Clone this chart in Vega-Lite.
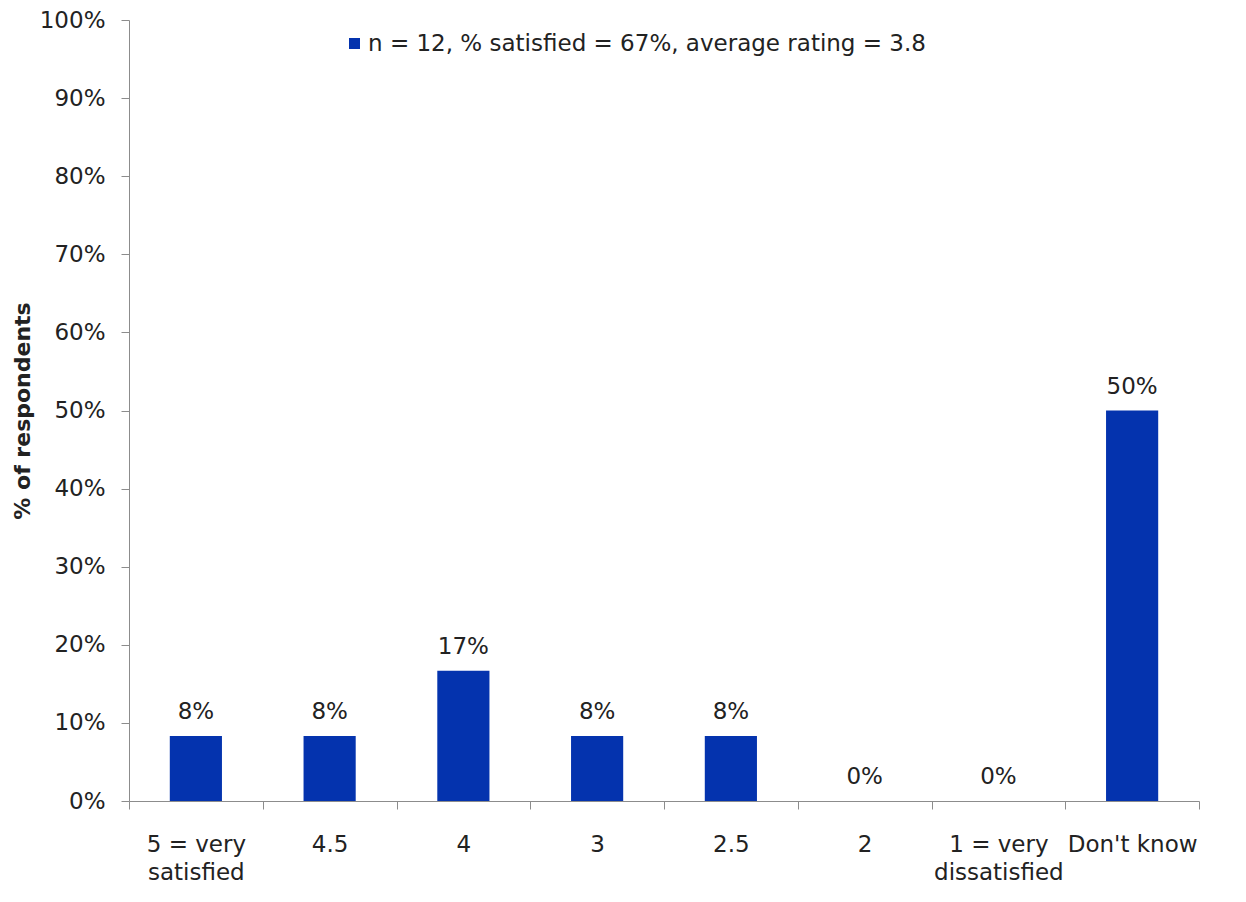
{
  "$schema": "https://vega.github.io/schema/vega-lite/v6.json",
  "width": 1070,
  "height": 781,
  "autosize": {"type": "none"},
  "padding": {"left": 129, "top": 20, "right": 47, "bottom": 101},
  "background": "white",
  "config": {
    "view": {"stroke": null},
    "font": "DejaVu Sans",
    "axis": {
      "labelFont": "DejaVu Sans",
      "labelFontSize": 23,
      "labelColor": "#222",
      "domainColor": "#8c8c8c",
      "tickColor": "#8c8c8c",
      "tickSize": 8,
      "grid": false
    }
  },
  "data": {
    "values": [
      {"rating": "5 = very satisfied", "pct": 0.0833, "series": "n = 12, % satisfied = 67%, average rating = 3.8"},
      {"rating": "4.5", "pct": 0.0833, "series": "n = 12, % satisfied = 67%, average rating = 3.8"},
      {"rating": "4", "pct": 0.1667, "series": "n = 12, % satisfied = 67%, average rating = 3.8"},
      {"rating": "3", "pct": 0.0833, "series": "n = 12, % satisfied = 67%, average rating = 3.8"},
      {"rating": "2.5", "pct": 0.0833, "series": "n = 12, % satisfied = 67%, average rating = 3.8"},
      {"rating": "2", "pct": 0, "series": "n = 12, % satisfied = 67%, average rating = 3.8"},
      {"rating": "1 = very dissatisfied", "pct": 0, "series": "n = 12, % satisfied = 67%, average rating = 3.8"},
      {"rating": "Don't know", "pct": 0.5, "series": "n = 12, % satisfied = 67%, average rating = 3.8"}
    ]
  },
  "encoding": {
    "x": {
      "field": "rating",
      "type": "nominal",
      "sort": null,
      "scale": {"paddingInner": 0, "paddingOuter": 0},
      "axis": {
        "title": null,
        "labelAngle": 0,
        "tickBand": "extent",
        "labelPadding": 24,
        "labelBaseline": "top",
        "labelLineHeight": 28,
        "labelExpr": "split(replace(datum.label, 'very ', 'very|'), '|')"
      }
    },
    "y": {
      "field": "pct",
      "type": "quantitative",
      "scale": {"domain": [0, 1], "nice": false},
      "axis": {
        "title": "% of respondents",
        "titleFont": "DejaVu Sans",
        "titleFontSize": 22,
        "titleFontWeight": "bold",
        "titleColor": "#222",
        "titlePadding": 5,
        "format": ".0%",
        "values": [0, 0.1, 0.2, 0.3, 0.4, 0.5, 0.6, 0.7, 0.8, 0.9, 1],
        "labelPadding": 16
      }
    }
  },
  "layer": [
    {
      "mark": {"type": "bar", "width": {"band": 0.39}},
      "encoding": {
        "color": {
          "field": "series",
          "type": "nominal",
          "scale": {"range": ["#0433AE"]},
          "legend": {
            "title": null,
            "orient": "none",
            "legendX": 214,
            "legendY": 12,
            "padding": 0,
            "symbolType": "square",
            "symbolSize": 121,
            "symbolStrokeWidth": 0,
            "labelFont": "DejaVu Sans",
            "labelFontSize": 23,
            "labelColor": "#222",
            "labelOffset": 2,
            "labelLimit": 1000
          }
        }
      }
    },
    {
      "mark": {"type": "text", "baseline": "alphabetic", "dy": -17, "fontSize": 23, "font": "DejaVu Sans", "color": "#222"},
      "encoding": {
        "text": {"field": "pct", "type": "quantitative", "format": ".0%"}
      }
    }
  ]
}
